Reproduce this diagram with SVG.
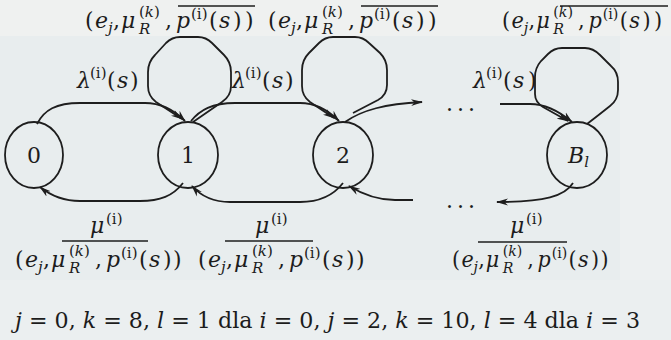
<svg xmlns="http://www.w3.org/2000/svg" width="671" height="340" viewBox="0 0 671 340">
<defs>
<style>
.t{font-family:"DejaVu Serif",serif;font-size:22px;fill:#1c1c1c}
.it{font-style:italic}
.sc{font-size:15px}
.ln{fill:none;stroke:#1e1e1e;stroke-width:1.8}
.nd{fill:none;stroke:#1e1e1e;stroke-width:1.8}
.ol{stroke:#1e1e1e;stroke-width:1.5}
</style>
<marker id="arr" viewBox="0 0 12 8" refX="11" refY="4" markerWidth="12" markerHeight="8" orient="auto" markerUnits="userSpaceOnUse"><path d="M0,0.6 L12,4 L0,7.4 L3.5,4 z" fill="#1e1e1e"/></marker>
</defs>
<rect x="0" y="0" width="671" height="340" fill="#e8edee"/>
<rect x="0" y="0" width="671" height="36" fill="#eff1f0"/>
<rect x="0" y="280" width="671" height="60" fill="#ebeff0"/>
<rect x="620" y="36" width="51" height="244" fill="#edf0f1"/>

<g id="connectors">
<path class="ln" marker-end="url(#arr)" d="M37,124 C44,110 56,103 80,103 L145,103 C162,103 174,110 185,121"/>
<path class="ln" marker-end="url(#arr)" d="M191,121 C200,110 212,103 235,103 L300,103 C316,103 328,110 339,121"/>
<path class="ln" marker-end="url(#arr)" d="M345,122 C362,110 385,104 422,102"/>
<path class="ln" marker-end="url(#arr)" d="M500,104 L530,104 C545,104 560,112 572,122"/>
<path class="ln" marker-end="url(#arr)" d="M573,183 C565,196 545,202 497,202"/>
<path class="ln" marker-end="url(#arr)" d="M413,200 L395,200 C378,200 362,194 349,186"/>
<path class="ln" marker-end="url(#arr)" d="M343,183 C333,196 320,202 300,202 L230,202 C212,202 200,195 192,186"/>
<path class="ln" marker-end="url(#arr)" d="M183,183 C173,196 160,201 140,201 L80,201 C62,201 50,195 40,187"/>
<path class="ln" marker-end="url(#arr)" d="M193,122 L222,102 Q231,96 231,86 L231,72 Q231,62 224,55 L212,43 Q206,37 198,37 L180,37 Q172,37 166,43 L155,55 Q148,62 148,72 L148,86 Q148,96 156,102 L182,119"/>
<path class="ln" marker-end="url(#arr)" d="M353,113 L378,100 Q387,95 387,85 L387,70 Q387,60 380,53 L369,43 Q363,37 355,37 L333,37 Q325,37 319,43 L309,53 Q302,60 302,70 L302,86 Q302,96 310,102 L334,118"/>
<path class="ln" marker-end="url(#arr)" d="M587,124 Q600,114 610,106 Q618,100 618,90 L618,82 Q618,72 611,66 L600,55 Q593,48 585,48 L562,48 Q554,48 548,54 L541,61 Q535,68 535,77 L535,94 Q535,102 543,107 L568,121"/>
</g>

<g id="node0"><ellipse class="nd" cx="34" cy="155" rx="29" ry="33"/><text class="t" x="34" y="163" text-anchor="middle" font-size="24">0</text></g>
<g id="node1"><ellipse class="nd" cx="188" cy="155" rx="30" ry="33"/><text class="t" x="188" y="163" text-anchor="middle" font-size="24">1</text></g>
<g id="node2"><ellipse class="nd" cx="343" cy="155" rx="30" ry="33"/><text class="t" x="343" y="163" text-anchor="middle" font-size="24">2</text></g>
<g id="nodeB"><ellipse class="nd" cx="577" cy="155" rx="30" ry="33"/><text class="t" x="568" y="163" font-size="24"><tspan class="it">B</tspan><tspan class="it sc" dy="4">l</tspan></text></g>

<g id="dots">
<text class="t" x="446" y="111" font-size="20" letter-spacing="4">...</text>
<text class="t" x="446" y="208" font-size="20" letter-spacing="4">...</text>
</g>

<g id="top-labels">
<g transform="translate(85,28)"><text class="t"><tspan x="0" y="0">(</tspan><tspan class="it" x="10" y="0">e</tspan><tspan class="it sc" x="23" y="5">j</tspan><tspan x="28" y="0">,</tspan><tspan class="it" x="36" y="0">μ</tspan><tspan class="it sc" x="54" y="6">R</tspan><tspan class="sc" x="54" y="-11">(</tspan><tspan class="it sc">k</tspan><tspan class="sc">)</tspan><tspan x="80" y="0">,</tspan><tspan class="it" x="91" y="0">p</tspan><tspan class="sc" x="106" y="-9">(i)</tspan><tspan x="124" y="0">(</tspan><tspan class="it" x="134" y="0">s</tspan><tspan x="148" y="0">)</tspan><tspan x="160" y="0">)</tspan></text></g>
<line class="ol" x1="178" y1="6" x2="255" y2="6"/>
<g transform="translate(268,28)"><text class="t"><tspan x="0" y="0">(</tspan><tspan class="it" x="10" y="0">e</tspan><tspan class="it sc" x="23" y="5">j</tspan><tspan x="28" y="0">,</tspan><tspan class="it" x="36" y="0">μ</tspan><tspan class="it sc" x="54" y="6">R</tspan><tspan class="sc" x="54" y="-11">(</tspan><tspan class="it sc">k</tspan><tspan class="sc">)</tspan><tspan x="80" y="0">,</tspan><tspan class="it" x="91" y="0">p</tspan><tspan class="sc" x="106" y="-9">(i)</tspan><tspan x="124" y="0">(</tspan><tspan class="it" x="134" y="0">s</tspan><tspan x="148" y="0">)</tspan><tspan x="160" y="0">)</tspan></text></g>
<line class="ol" x1="361" y1="6" x2="438" y2="6"/>
<g transform="translate(502,28) scale(0.95,1)"><text class="t"><tspan x="0" y="0">(</tspan><tspan class="it" x="10" y="0">e</tspan><tspan class="it sc" x="23" y="5">j</tspan><tspan x="28" y="0">,</tspan><tspan class="it" x="36" y="0">μ</tspan><tspan class="it sc" x="54" y="6">R</tspan><tspan class="sc" x="54" y="-11">(</tspan><tspan class="it sc">k</tspan><tspan class="sc">)</tspan><tspan x="80" y="0">,</tspan><tspan class="it" x="91" y="0">p</tspan><tspan class="sc" x="106" y="-9">(i)</tspan><tspan x="124" y="0">(</tspan><tspan class="it" x="134" y="0">s</tspan><tspan x="148" y="0">)</tspan><tspan x="160" y="0">)</tspan></text></g>
<line class="ol" x1="560" y1="6" x2="668" y2="6"/>
</g>

<g id="lambda-labels">
<text class="t"><tspan class="it" x="77" y="88">λ</tspan><tspan class="sc" x="90" y="78">(i)</tspan><tspan x="107" y="88">(</tspan><tspan class="it" x="117" y="88">s</tspan><tspan x="130" y="88">)</tspan></text>
<text class="t"><tspan class="it" x="232" y="88">λ</tspan><tspan class="sc" x="245" y="78">(i)</tspan><tspan x="262" y="88">(</tspan><tspan class="it" x="272" y="88">s</tspan><tspan x="285" y="88">)</tspan></text>
<text class="t"><tspan class="it" x="473" y="88">λ</tspan><tspan class="sc" x="486" y="78">(i)</tspan><tspan x="503" y="88">(</tspan><tspan class="it" x="513" y="88">s</tspan><tspan x="528" y="88">)</tspan></text>
</g>

<g id="mu-labels">
<text class="t"><tspan class="it" x="90" y="233">μ</tspan><tspan class="sc" x="106" y="224">(i)</tspan></text>
<line class="ol" x1="62" y1="241" x2="148" y2="241"/>
<g transform="translate(15,267)"><text class="t"><tspan x="0" y="0">(</tspan><tspan class="it" x="10" y="0">e</tspan><tspan class="it sc" x="23" y="5">j</tspan><tspan x="28" y="0">,</tspan><tspan class="it" x="36" y="0">μ</tspan><tspan class="it sc" x="54" y="6">R</tspan><tspan class="sc" x="54" y="-11">(</tspan><tspan class="it sc">k</tspan><tspan class="sc">)</tspan><tspan x="80" y="0">,</tspan><tspan class="it" x="91" y="0">p</tspan><tspan class="sc" x="106" y="-9">(i)</tspan><tspan x="124" y="0">(</tspan><tspan class="it" x="134" y="0">s</tspan><tspan x="148" y="0">)</tspan><tspan x="158" y="0">)</tspan></text></g>
<text class="t"><tspan class="it" x="255" y="233">μ</tspan><tspan class="sc" x="271" y="224">(i)</tspan></text>
<line class="ol" x1="225" y1="241" x2="313" y2="241"/>
<g transform="translate(198,267)"><text class="t"><tspan x="0" y="0">(</tspan><tspan class="it" x="10" y="0">e</tspan><tspan class="it sc" x="23" y="5">j</tspan><tspan x="28" y="0">,</tspan><tspan class="it" x="36" y="0">μ</tspan><tspan class="it sc" x="54" y="6">R</tspan><tspan class="sc" x="54" y="-11">(</tspan><tspan class="it sc">k</tspan><tspan class="sc">)</tspan><tspan x="80" y="0">,</tspan><tspan class="it" x="91" y="0">p</tspan><tspan class="sc" x="106" y="-9">(i)</tspan><tspan x="124" y="0">(</tspan><tspan class="it" x="134" y="0">s</tspan><tspan x="148" y="0">)</tspan><tspan x="158" y="0">)</tspan></text></g>
<text class="t"><tspan class="it" x="510" y="233">μ</tspan><tspan class="sc" x="526" y="224">(i)</tspan></text>
<line class="ol" x1="478" y1="242" x2="567" y2="242"/>
<g transform="translate(452,267) scale(0.94,1)"><text class="t"><tspan x="0" y="0">(</tspan><tspan class="it" x="10" y="0">e</tspan><tspan class="it sc" x="23" y="5">j</tspan><tspan x="28" y="0">,</tspan><tspan class="it" x="36" y="0">μ</tspan><tspan class="it sc" x="54" y="6">R</tspan><tspan class="sc" x="54" y="-11">(</tspan><tspan class="it sc">k</tspan><tspan class="sc">)</tspan><tspan x="80" y="0">,</tspan><tspan class="it" x="91" y="0">p</tspan><tspan class="sc" x="106" y="-9">(i)</tspan><tspan x="124" y="0">(</tspan><tspan class="it" x="134" y="0">s</tspan><tspan x="148" y="0">)</tspan><tspan x="158" y="0">)</tspan></text></g>
</g>

<g id="caption">
<text class="t" x="15" y="328" font-size="26" textLength="625" lengthAdjust="spacingAndGlyphs"><tspan class="it">j</tspan> = 0, <tspan class="it">k</tspan> = 8, <tspan class="it">l</tspan> = 1 dla <tspan class="it">i</tspan> = 0, <tspan class="it">j</tspan> = 2, <tspan class="it">k</tspan> = 10, <tspan class="it">l</tspan> = 4 dla <tspan class="it">i</tspan> = 3</text>
</g>
</svg>
